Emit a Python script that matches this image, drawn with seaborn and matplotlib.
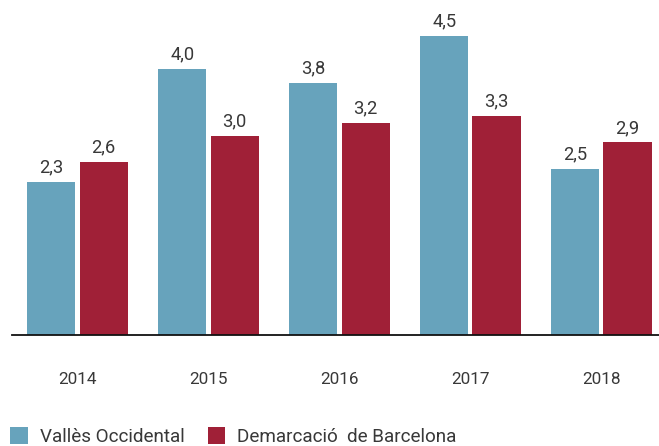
import matplotlib
matplotlib.use("Agg")
import matplotlib.pyplot as plt
from matplotlib.patches import Patch
import seaborn as sns
import pandas as pd

years = ["2014", "2015", "2016", "2017", "2018"]
valles = [2.3, 4.0, 3.8, 4.5, 2.5]
barcelona = [2.6, 3.0, 3.2, 3.3, 2.9]
series_names = ["Vallès Occidental", "Demarcació  de Barcelona"]
colors = ["#67a3bc", "#a02037"]

df = pd.DataFrame({
    "year": years * 2,
    "value": valles + barcelona,
    "series": [series_names[0]] * len(years) + [series_names[1]] * len(years),
})

sns.set_theme(style="white")
plt.rcParams["font.family"] = ["Roboto", "DejaVu Sans"]
text_color = "#383838"

W, H = 659, 446
fig = plt.figure(figsize=(W / 100, H / 100), dpi=100)
ax = fig.add_axes([12 / W, 111 / H, (W - 12) / W, 335 / H])

sns.barplot(data=df, x="year", y="value", hue="series", palette=colors,
            width=0.8, gap=0.08, legend=False, ax=ax, saturation=1,
            linewidth=0, edgecolor="none")

for container in ax.containers:
    labels = [f"{v:.1f}".replace(".", ",") for v in container.datavalues]
    ax.bar_label(container, labels=labels, padding=4, fontsize=13.2,
                 color=text_color)

ax.set_xlim(-0.5, 4.44)
ax.set_ylim(0, 5.045)
ax.set_xlabel("")
ax.set_ylabel("")
ax.set_yticks([])
ax.tick_params(axis="x", length=0, pad=27, labelsize=12.3, labelcolor=text_color)
for side in ["top", "left", "right"]:
    ax.spines[side].set_visible(False)
ax.spines["bottom"].set_color("#111111")
ax.spines["bottom"].set_linewidth(1.3)

handles = [Patch(facecolor=c, edgecolor="none") for c in colors]
fig.legend(handles, series_names, loc="lower left",
           bbox_to_anchor=(1 / W, -9 / H), ncol=2, frameon=False,
           fontsize=13.6, handlelength=0.95, handleheight=1.0,
           handletextpad=0.62, columnspacing=1.2, borderpad=0,
           labelcolor=text_color)

fig.savefig("out.png", dpi=100)
